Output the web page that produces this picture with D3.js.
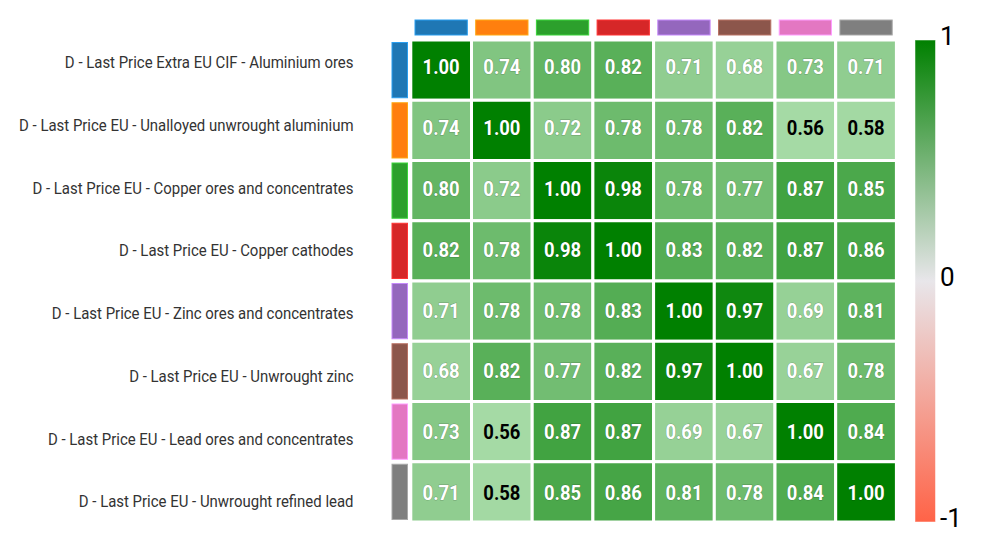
<!DOCTYPE html>
<html>
<head>
<meta charset="utf-8">
<script src="https://cdn.jsdelivr.net/npm/d3@7"></script>
<style>
  body { margin: 0; background: #fff; }
  svg { display: block; font-family: Roboto, "Noto Sans", sans-serif; }
</style>
</head>
<body>
<svg id="graphic" width="988" height="539"></svg>
<script>
// series names (rows and columns are the same list)
const series = [
  "D - Last Price Extra EU CIF - Aluminium ores",
  "D - Last Price EU - Unalloyed unwrought aluminium",
  "D - Last Price EU - Copper ores and concentrates",
  "D - Last Price EU - Copper cathodes",
  "D - Last Price EU - Zinc ores and concentrates",
  "D - Last Price EU - Unwrought zinc",
  "D - Last Price EU - Lead ores and concentrates",
  "D - Last Price EU - Unwrought refined lead"
];

// correlation matrix, row by row
const corr = [
  [1.00, 0.74, 0.80, 0.82, 0.71, 0.68, 0.73, 0.71],
  [0.74, 1.00, 0.72, 0.78, 0.78, 0.82, 0.56, 0.58],
  [0.80, 0.72, 1.00, 0.98, 0.78, 0.77, 0.87, 0.85],
  [0.82, 0.78, 0.98, 1.00, 0.83, 0.82, 0.87, 0.86],
  [0.71, 0.78, 0.78, 0.83, 1.00, 0.97, 0.69, 0.81],
  [0.68, 0.82, 0.77, 0.82, 0.97, 1.00, 0.67, 0.78],
  [0.73, 0.56, 0.87, 0.87, 0.69, 0.67, 1.00, 0.84],
  [0.71, 0.58, 0.85, 0.86, 0.81, 0.78, 0.84, 1.00]
];

const colorbarTicks = [1, 0, -1];

const svg = d3.select('#graphic');
const idx = d3.range(series.length);

let x = d3.scaleBand().domain(idx).range([410.8, 896.4]);
let y = d3.scaleBand().domain(idx).range([40, 522]);
// annotations and row labels sit on their own slightly different grids
let yText = d3.scaleBand().domain(idx).range([36.3, 523.2]);
let yLabel = d3.scaleBand().domain(idx).range([31.2, 533]);

let cat = d3.scaleOrdinal(d3.schemeCategory10).domain(idx);

let cellColor = d3.scaleLinear()
  .domain([-1, 0, 0.55, 0.7, 1])
  .range(['#ff6347', '#e8e6ea', '#a6dba6', '#95d095', '#008000']);

let cells = [];
corr.forEach((row, i) => row.forEach((v, j) => cells.push({ i, j, v })));

// heatmap cells
svg.selectAll('.cell')
  .data(cells)
  .enter()
  .append('rect')
  .classed('cell', true)
  .attr('x', d => x(d.j))
  .attr('y', d => y(d.i))
  .attr('width', x.bandwidth())
  .attr('height', y.bandwidth())
  .attr('fill', d => cellColor(d.v))
  .attr('stroke', '#fff')
  .attr('stroke-width', 3);

// values
svg.selectAll('.val')
  .data(cells)
  .enter()
  .append('text')
  .classed('val', true)
  .attr('transform', d => `translate(${x(d.j) + x.bandwidth() / 2},${yText(d.i) + yText.bandwidth() / 2}) scale(0.9,1)`)
  .attr('text-anchor', 'middle')
  .attr('dy', '0.36em')
  .style('font-size', '20.5px')
  .style('font-weight', 'bold')
  .attr('fill', d => d.v < 0.6 ? '#000' : '#fff')
  .attr('stroke', d => d.v < 0.6 ? 'none' : 'rgba(0,0,0,0.25)')
  .attr('stroke-width', 1)
  .attr('paint-order', 'stroke')
  .text(d => d3.format('.2f')(d.v));

// column colour strips
svg.selectAll('.colstrip')
  .data(idx)
  .enter()
  .append('rect')
  .classed('colstrip', true)
  .attr('x', d => x(d) + 4.2)
  .attr('y', 20)
  .attr('width', x.bandwidth() - 8.4)
  .attr('height', 15)
  .attr('fill', d => cat(d))
  .attr('stroke', d => d3.color(cat(d)).brighter(0.8))
  .attr('stroke-width', 1);

// row colour strips
svg.selectAll('.rowstrip')
  .data(idx)
  .enter()
  .append('rect')
  .classed('rowstrip', true)
  .attr('x', 392)
  .attr('y', d => y(d) + 2.5)
  .attr('width', 15.5)
  .attr('height', y.bandwidth() - 5)
  .attr('fill', d => cat(d))
  .attr('stroke', d => d3.color(cat(d)).brighter(0.8))
  .attr('stroke-width', 1);

// row labels
svg.selectAll('.rowlabel')
  .data(idx)
  .enter()
  .append('text')
  .classed('rowlabel', true)
  .attr('transform', d => `translate(353.5,${yLabel(d) + yLabel.bandwidth() / 2}) scale(0.935,1)`)
  .attr('text-anchor', 'end')
  .attr('dy', '0.36em')
  .style('font-size', '16px')
  .attr('fill', '#333')
  .text(d => series[d]);

// colorbar
let cb = d3.scaleLinear().domain([-1, 1]).range([522, 40]);

let grad = svg.append('defs').append('linearGradient')
  .attr('id', 'cbgrad')
  .attr('x1', 0).attr('y1', 1).attr('x2', 0).attr('y2', 0);
grad.selectAll('stop')
  .data([[-1, '#ff6347'], [0, '#e8e6ea'], [1, '#008000']])
  .enter()
  .append('stop')
  .attr('offset', d => (d[0] + 1) / 2)
  .attr('stop-color', d => d[1]);

svg.append('rect')
  .attr('x', 915)
  .attr('y', cb(1))
  .attr('width', 20.5)
  .attr('height', cb(-1) - cb(1))
  .attr('fill', 'url(#cbgrad)')
  .attr('stroke', 'rgba(255,255,255,0.5)')
  .attr('stroke-width', 1);

svg.selectAll('.cbtick')
  .data(colorbarTicks)
  .enter()
  .append('text')
  .classed('cbtick', true)
  .attr('x', 940)
  .attr('y', d => cb(d) + 4.5)
  .style('font-size', '26px')
  .attr('fill', '#000')
  .text(d => d3.format('d')(d).replace('−', '-'));
</script>
</body>
</html>
